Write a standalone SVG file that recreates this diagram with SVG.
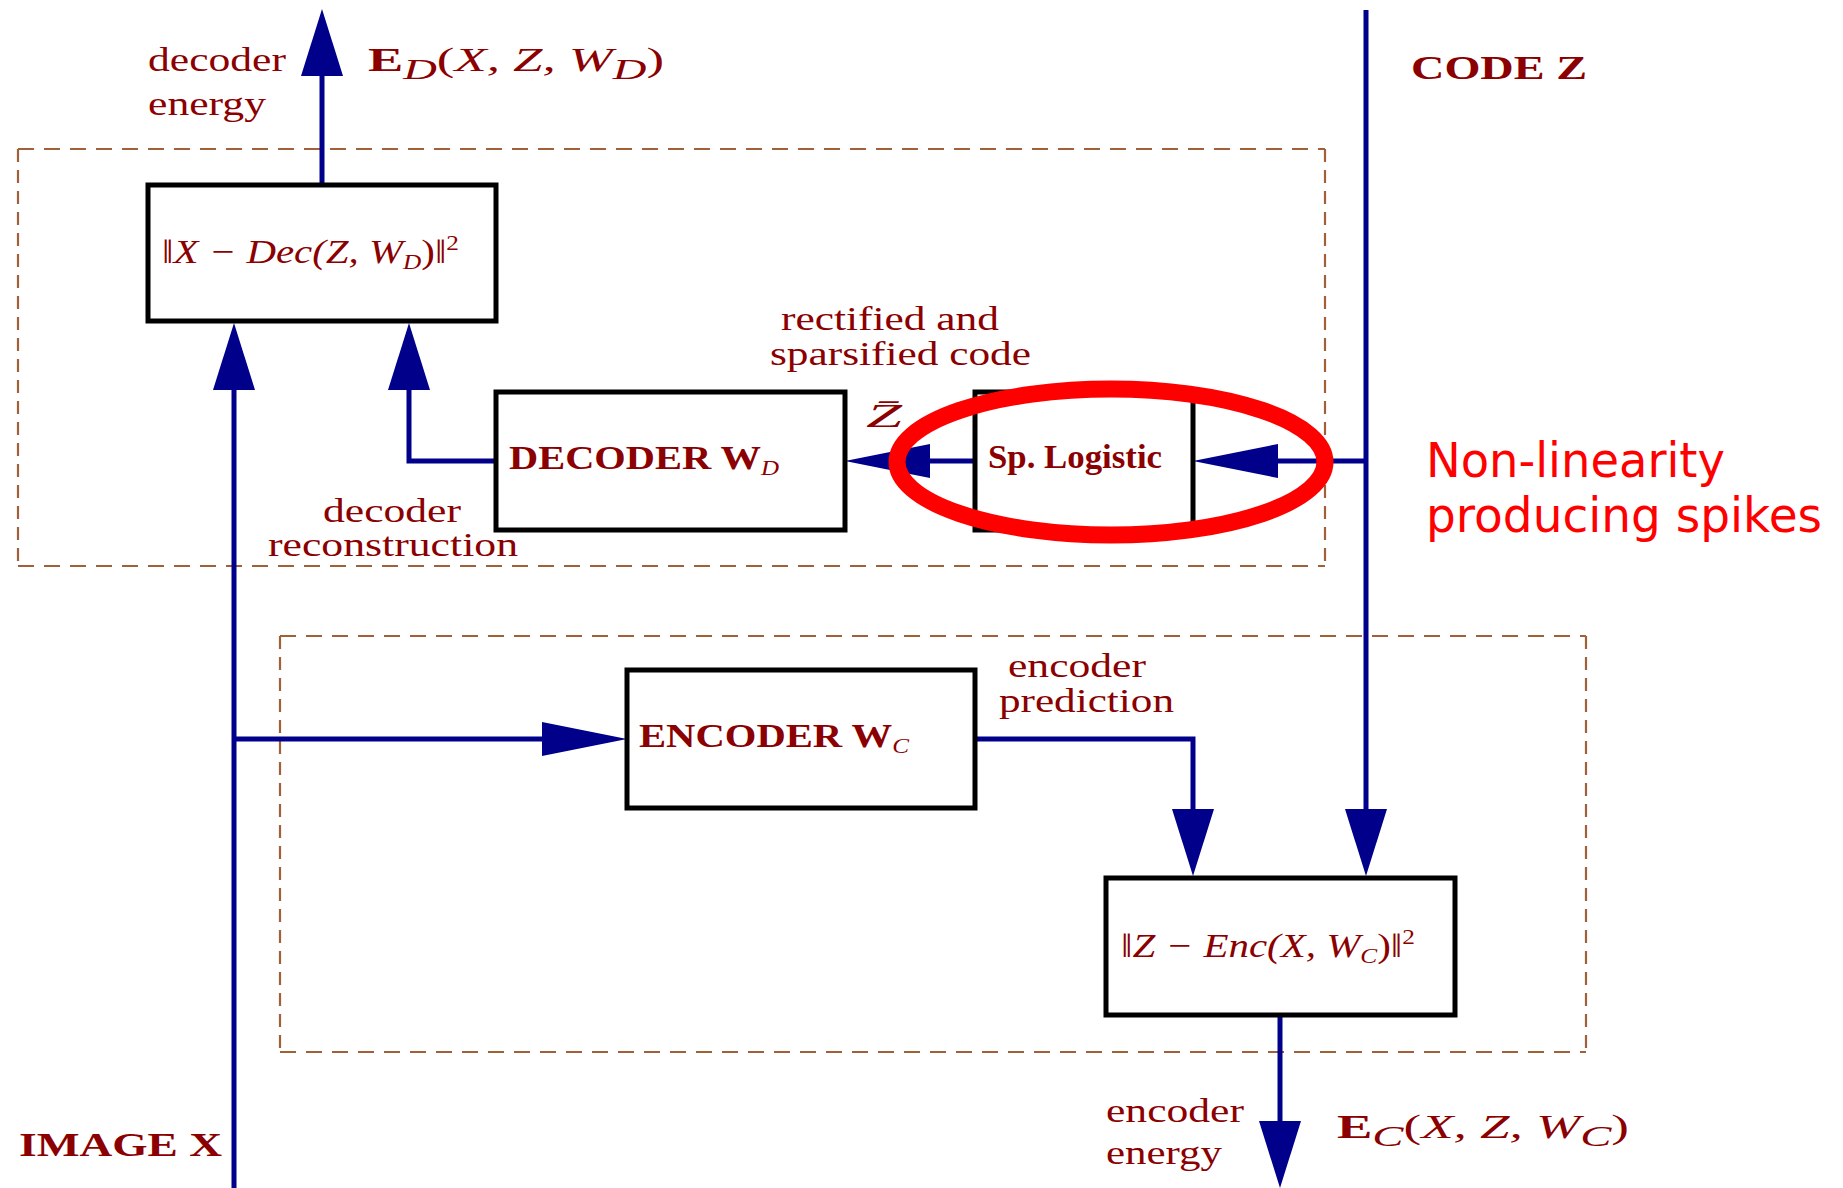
<svg xmlns="http://www.w3.org/2000/svg" width="1843" height="1188" viewBox="0 0 1843 1188">
  <style>
    .lbl { fill: #8b0000; font-family: "Liberation Serif", "DejaVu Serif", serif; font-size: 34px; }
    .bf { font-weight: bold; }
    .it { font-style: italic; }
    .up { font-style: normal; }
    .box { fill: #ffffff; stroke: #000000; stroke-width: 5; }
    .frameH { fill: none; stroke: #a0603a; stroke-width: 2.2; stroke-dasharray: 16 10; }
    .frameV { fill: none; stroke: #a0603a; stroke-width: 2.2; stroke-dasharray: 13 8; }
    .wire { fill: none; stroke: #00008b; stroke-width: 5; }
    .ring { fill: none; stroke: #ff0000; stroke-width: 17; }
    .note { fill: #ff0000; font-family: "DejaVu Sans", sans-serif; font-size: 48px; }
  </style>
  <defs>
    <!-- arrowhead for vertical wires -->
    <marker id="headV" markerUnits="userSpaceOnUse" markerWidth="70" markerHeight="44" viewBox="0 -22 70 44" refX="4" refY="0" orient="auto">
      <path d="M0,-21 L67,0 L0,21 Z" fill="#00008b"/>
    </marker>
    <!-- arrowhead for horizontal wires -->
    <marker id="headH" markerUnits="userSpaceOnUse" markerWidth="88" markerHeight="36" viewBox="0 -18 88 36" refX="4" refY="0" orient="auto">
      <path d="M0,-17 L85,0 L0,17 Z" fill="#00008b"/>
    </marker>
  </defs>

  <rect width="1843" height="1188" fill="#ffffff"/>

  <!-- dashed module frames -->
  <g id="frames">
    <path class="frameH" d="M18,149 H1325 M18,566 H1325"/>
    <path class="frameV" d="M18,149 V566 M1325,149 V566"/>
    <path class="frameH" d="M280,636 H1586 M280,1052 H1586"/>
    <path class="frameV" d="M280,636 V1052 M1586,636 V1052"/>
  </g>

  <!-- connectors -->
  <g id="connectors">
    <path class="wire" d="M322,185 V72" marker-end="url(#headV)"/>
    <path class="wire" d="M234,1188 V386" marker-end="url(#headV)"/>
    <path class="wire" d="M234,739 H546" marker-end="url(#headH)"/>
    <path class="wire" d="M496,461 H409 V386" marker-end="url(#headV)"/>
    <path class="wire" d="M1366,10 V813" marker-end="url(#headV)"/>
    <path class="wire" d="M1366,461 H1274" marker-end="url(#headH)"/>
    <path class="wire" d="M975,461 H926" marker-end="url(#headH)"/>
    <path class="wire" d="M975,739 H1193 V813" marker-end="url(#headV)"/>
    <path class="wire" d="M1280,1017 V1125" marker-end="url(#headV)"/>
  </g>

  <!-- decoder energy -->
  <g id="decoder-energy">
    <rect class="box" x="148" y="185" width="348" height="136"/>
    <text class="lbl it" x="162" y="263" font-size="30" textLength="297" lengthAdjust="spacingAndGlyphs"><tspan class="up">‖</tspan>X − Dec(Z, W<tspan font-size="21" dy="6">D</tspan><tspan dy="-6" class="up">)‖</tspan><tspan class="up" font-size="21" dy="-13">2</tspan></text>
  </g>

  <!-- decoder -->
  <g id="decoder">
    <rect class="box" x="496" y="392" width="349" height="138"/>
    <text class="lbl bf" x="509" y="469" font-size="28" textLength="270" lengthAdjust="spacingAndGlyphs">DECODER W<tspan class="it" font-weight="normal" font-size="21" dy="6">D</tspan></text>
  </g>

  <!-- sparsifying logistic -->
  <g id="sp-logistic">
    <rect class="box" x="975" y="392" width="218" height="138"/>
    <text class="lbl bf" x="988" y="468" font-size="28" textLength="174" lengthAdjust="spacingAndGlyphs">Sp. Logistic</text>
  </g>

  <!-- encoder -->
  <g id="encoder">
    <rect class="box" x="627" y="670" width="348" height="138"/>
    <text class="lbl bf" x="639" y="747" font-size="28" textLength="270" lengthAdjust="spacingAndGlyphs">ENCODER W<tspan class="it" font-weight="normal" font-size="21" dy="6">C</tspan></text>
  </g>

  <!-- encoder energy -->
  <g id="encoder-energy">
    <rect class="box" x="1106" y="878" width="349" height="137"/>
    <text class="lbl it" x="1121" y="957" font-size="30" textLength="294" lengthAdjust="spacingAndGlyphs"><tspan class="up">‖</tspan>Z − Enc(X, W<tspan font-size="21" dy="6">C</tspan><tspan dy="-6" class="up">)‖</tspan><tspan class="up" font-size="21" dy="-13">2</tspan></text>
  </g>

  <!-- labels -->
  <g id="labels">
    <text class="lbl" x="148" y="71" textLength="138" lengthAdjust="spacingAndGlyphs">decoder</text>
    <text class="lbl" x="148" y="115" textLength="118" lengthAdjust="spacingAndGlyphs">energy</text>
    <text class="lbl" x="368" y="71" font-size="44" textLength="296" lengthAdjust="spacingAndGlyphs"><tspan class="bf">E</tspan><tspan class="it" font-size="30" dy="8">D</tspan><tspan dy="-8">(</tspan><tspan class="it">X, Z, W</tspan><tspan class="it" font-size="30" dy="8">D</tspan><tspan dy="-8">)</tspan></text>
    <text class="lbl bf" x="1411" y="79" font-size="36" textLength="176" lengthAdjust="spacingAndGlyphs">CODE Z</text>
    <text class="lbl" x="781" y="330" textLength="218" lengthAdjust="spacingAndGlyphs">rectified and</text>
    <text class="lbl" x="770" y="365" textLength="261" lengthAdjust="spacingAndGlyphs">sparsified code</text>
    <text class="lbl it" x="866" y="427" font-size="44" textLength="36" lengthAdjust="spacingAndGlyphs">Z̄</text>
    <text class="lbl" x="323" y="522" textLength="138" lengthAdjust="spacingAndGlyphs">decoder</text>
    <text class="lbl" x="268" y="556" textLength="250" lengthAdjust="spacingAndGlyphs">reconstruction</text>
    <text class="lbl" x="1008" y="677" textLength="138" lengthAdjust="spacingAndGlyphs">encoder</text>
    <text class="lbl" x="999" y="712" textLength="175" lengthAdjust="spacingAndGlyphs">prediction</text>
    <text class="lbl" x="1106" y="1122" textLength="138" lengthAdjust="spacingAndGlyphs">encoder</text>
    <text class="lbl" x="1106" y="1164" textLength="116" lengthAdjust="spacingAndGlyphs">energy</text>
    <text class="lbl" x="1337" y="1138" font-size="44" textLength="292" lengthAdjust="spacingAndGlyphs"><tspan class="bf">E</tspan><tspan class="it" font-size="30" dy="8">C</tspan><tspan dy="-8">(</tspan><tspan class="it">X, Z, W</tspan><tspan class="it" font-size="30" dy="8">C</tspan><tspan dy="-8">)</tspan></text>
    <text class="lbl bf" x="19" y="1156" font-size="36" textLength="203" lengthAdjust="spacingAndGlyphs">IMAGE X</text>
  </g>

  <!-- highlight of the non-linearity -->
  <g id="highlight">
    <ellipse class="ring" cx="1111" cy="462" rx="214" ry="73"/>
    <text class="note" x="1426" y="477" textLength="299" lengthAdjust="spacingAndGlyphs">Non-linearity</text>
    <text class="note" x="1426" y="532" textLength="396" lengthAdjust="spacingAndGlyphs">producing spikes</text>
  </g>
</svg>
